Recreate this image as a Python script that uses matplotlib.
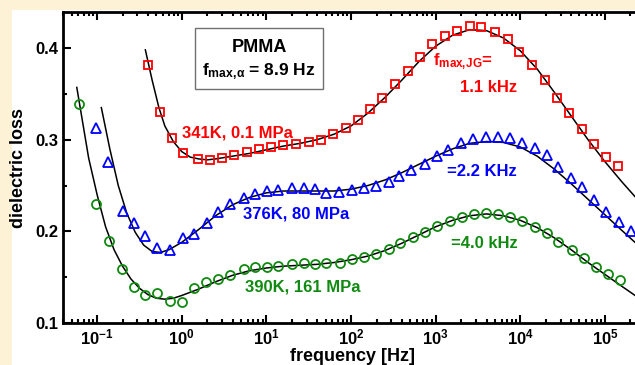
import numpy as np
import matplotlib
matplotlib.use("Agg")
import matplotlib.pyplot as plt
import matplotlib.patches as pltp
from matplotlib.ticker import FixedLocator, LogLocator, NullFormatter, MultipleLocator

plt.rcParams['font.family'] = ['Liberation Sans', 'DejaVu Sans']
plt.rcParams['font.weight'] = 'bold'
plt.rcParams['mathtext.fontset'] = 'custom'
plt.rcParams['mathtext.rm'] = 'Liberation Sans:bold'
plt.rcParams['mathtext.bf'] = 'Liberation Sans:bold'
plt.rcParams['mathtext.it'] = 'Liberation Sans:bold'
plt.rcParams['mathtext.default'] = 'bf'

RED = "#ff0000"
BLUE = "#0000ff"
GREEN = "#108a10"

# ---- data (log10 of frequency in Hz, dielectric loss) ----
red_logf = [-0.40, -0.26, -0.11, 0.02, 0.19, 0.33, 0.48, 0.62, 0.77, 0.91, 1.06, 1.20,
            1.35, 1.50, 1.64, 1.79, 1.94, 2.08, 2.23, 2.37, 2.52, 2.67, 2.81, 2.96,
            3.11, 3.25, 3.40, 3.54, 3.70, 3.85, 3.99, 4.14, 4.29, 4.43, 4.57, 4.73,
            4.87, 5.01, 5.15]
red_loss = [0.381, 0.330, 0.302, 0.286, 0.279, 0.278, 0.280, 0.283, 0.287, 0.290, 0.292, 0.294,
            0.295, 0.297, 0.300, 0.306, 0.313, 0.322, 0.333, 0.346, 0.361, 0.375, 0.390, 0.404,
            0.413, 0.419, 0.424, 0.423, 0.417, 0.410, 0.396, 0.382, 0.365, 0.346, 0.329, 0.312,
            0.295, 0.281, 0.271]

blue_logf = [-1.01, -0.87, -0.70, -0.57, -0.43, -0.29, -0.14, 0.01, 0.14, 0.30, 0.43, 0.57,
             0.73, 0.87, 1.01, 1.14, 1.30, 1.44, 1.57, 1.71, 1.86, 2.01, 2.15, 2.29,
             2.45, 2.57, 2.71, 2.87, 3.01, 3.15, 3.30, 3.44, 3.60, 3.74, 3.88, 4.02,
             4.17, 4.31, 4.45, 4.60, 4.73, 4.87, 5.01, 5.17, 5.31]
blue_loss = [0.313, 0.276, 0.222, 0.209, 0.195, 0.182, 0.180, 0.193, 0.197, 0.209, 0.221, 0.230,
             0.236, 0.241, 0.244, 0.245, 0.247, 0.247, 0.246, 0.242, 0.243, 0.245, 0.247, 0.250,
             0.254, 0.260, 0.267, 0.274, 0.282, 0.289, 0.296, 0.301, 0.303, 0.303, 0.302, 0.296,
             0.291, 0.283, 0.270, 0.258, 0.248, 0.234, 0.221, 0.210, 0.200]

green_logf = [-1.21, -1.01, -0.86, -0.71, -0.57, -0.44, -0.29, -0.14, 0.00, 0.14, 0.29, 0.43,
              0.57, 0.73, 0.87, 1.01, 1.14, 1.30, 1.44, 1.57, 1.71, 1.87, 2.01, 2.15,
              2.30, 2.45, 2.58, 2.73, 2.87, 3.01, 3.17, 3.31, 3.45, 3.60, 3.74, 3.88,
              4.02, 4.17, 4.31, 4.45, 4.61, 4.75, 4.89, 5.04, 5.18]
green_loss = [0.339, 0.230, 0.189, 0.159, 0.139, 0.131, 0.133, 0.124, 0.123, 0.138, 0.145, 0.148,
              0.152, 0.159, 0.161, 0.161, 0.162, 0.164, 0.165, 0.164, 0.165, 0.166, 0.170, 0.172,
              0.175, 0.181, 0.187, 0.194, 0.199, 0.206, 0.211, 0.216, 0.219, 0.220, 0.219, 0.216,
              0.211, 0.205, 0.198, 0.188, 0.180, 0.171, 0.161, 0.153, 0.147]

# fitted curves
red_fit_logf = [-0.43, -0.35, -0.27, -0.2, -0.1, 0.0, 0.1, 0.2, 0.3, 0.4, 0.6, 0.8, 1.0, 1.2,
                1.4, 1.6, 1.8, 2.0, 2.2, 2.4, 2.6, 2.8, 3.0, 3.2, 3.4, 3.6, 3.8, 4.0,
                4.2, 4.4, 4.6, 4.8, 5.0, 5.2, 5.45]
red_fit_loss = [0.398, 0.365, 0.335, 0.315, 0.298, 0.287, 0.281, 0.279, 0.278, 0.279, 0.282,
                0.285, 0.289, 0.293, 0.296, 0.300, 0.306, 0.315, 0.329, 0.346, 0.365, 0.385,
                0.402, 0.414, 0.420, 0.419, 0.411, 0.397, 0.377, 0.352, 0.326, 0.300, 0.276,
                0.254, 0.228]

blue_fit_logf = [-0.95, -0.85, -0.75, -0.65, -0.55, -0.45, -0.35, -0.25, -0.15, 0.0, 0.2, 0.4,
                 0.6, 0.8, 1.0, 1.2, 1.4, 1.6, 1.8, 2.0, 2.2, 2.4, 2.6, 2.8, 3.0, 3.2,
                 3.4, 3.6, 3.8, 4.0, 4.2, 4.4, 4.6, 4.8, 5.0, 5.2, 5.45]
blue_fit_loss = [0.335, 0.290, 0.250, 0.220, 0.199, 0.185, 0.178, 0.177, 0.180, 0.188, 0.202,
                 0.217, 0.229, 0.237, 0.242, 0.244, 0.244, 0.244, 0.244, 0.246, 0.250, 0.256,
                 0.264, 0.273, 0.282, 0.290, 0.296, 0.298, 0.297, 0.292, 0.282, 0.268, 0.252,
                 0.235, 0.218, 0.201, 0.180]

green_fit_logf = [-1.24, -1.1, -1.0, -0.9, -0.8, -0.7, -0.6, -0.5, -0.4, -0.3, -0.2, -0.1, 0.0,
                  0.2, 0.4, 0.6, 0.8, 1.0, 1.2, 1.4, 1.6, 1.8, 2.0, 2.2, 2.4, 2.6, 2.8,
                  3.0, 3.2, 3.4, 3.6, 3.8, 4.0, 4.2, 4.4, 4.6, 4.8, 5.0, 5.2, 5.45]
green_fit_loss = [0.357, 0.280, 0.240, 0.205, 0.180, 0.162, 0.148, 0.138, 0.131, 0.127, 0.126,
                  0.127, 0.130, 0.137, 0.145, 0.152, 0.157, 0.160, 0.162, 0.163, 0.164, 0.166,
                  0.169, 0.173, 0.179, 0.187, 0.196, 0.205, 0.212, 0.217, 0.219, 0.217, 0.212,
                  0.204, 0.193, 0.180, 0.166, 0.153, 0.140, 0.124]

xtick_pos = [1e-1, 1e0, 1e1, 1e2, 1e3, 1e4, 1e5]
xtick_labels = [r'$10^{-1}$', r'$10^{0}$', r'$10^{1}$', r'$10^{2}$',
                r'$10^{3}$', r'$10^{4}$', r'$10^{5}$']
ytick_pos = [0.1, 0.2, 0.3, 0.4]
ytick_labels = ['0.1', '0.2', '0.3', '0.4']

# ---- figure ----
fig = plt.figure(figsize=(6.35, 3.65), dpi=100)
fig.patch.set_facecolor('#fdf2d6')
fig.patches.append(pltp.Rectangle((12 / 635, 0), 1, 1 - 10 / 365, transform=fig.transFigure,
                                  fc='white', ec='none', zorder=-5))

ax = fig.add_axes([63 / 635, 1 - 323 / 365, 1.01 - 63 / 635, (323 - 12) / 365])
ax.set_facecolor('none')
ax.set_zorder(1)
ax.set_xscale('log')

def to_f(logf):
    return 10 ** np.asarray(logf)

ax.plot(to_f(red_fit_logf), red_fit_loss, color='k', lw=1.1, zorder=2)
ax.plot(to_f(blue_fit_logf), blue_fit_loss, color='k', lw=1.1, zorder=2)
ax.plot(to_f(green_fit_logf), green_fit_loss, color='k', lw=1.1, zorder=2)

ax.plot(to_f(red_logf), red_loss, ls='none', marker='s', ms=6.3, mfc='none', mec=RED, mew=1.3, zorder=3)
ax.plot(to_f(blue_logf), blue_loss, ls='none', marker='^', ms=7.5, mfc='none', mec=BLUE, mew=1.3, zorder=3)
ax.plot(to_f(green_logf), green_loss, ls='none', marker='o', ms=6.5, mfc='none', mec=GREEN, mew=1.3, zorder=3)

ax.set_xlim(10 ** -1.403, 10 ** 5.43)
ax.set_ylim(0.1, 0.4393)

ax.xaxis.set_major_locator(FixedLocator(xtick_pos))
ax.set_xticklabels(xtick_labels)
ax.xaxis.set_minor_locator(LogLocator(base=10, subs=np.arange(2, 10), numticks=20))
ax.xaxis.set_minor_formatter(NullFormatter())
ax.yaxis.set_major_locator(FixedLocator(ytick_pos))
ax.set_yticklabels(ytick_labels)
ax.yaxis.set_minor_locator(MultipleLocator(0.05))

ax.tick_params(which='both', direction='in', top=True, right=False, width=1.5, labelsize=12)
ax.tick_params(which='major', length=6, pad=3)
ax.tick_params(which='minor', length=3)
for s in ['left', 'bottom', 'top']:
    ax.spines[s].set_linewidth(2)
ax.spines['right'].set_visible(False)

ax.set_xlabel('frequency [Hz]', fontsize=13, fontweight='bold', labelpad=1)
ax.set_ylabel('dielectric loss', fontsize=13, fontweight='bold', labelpad=6)

# annotations
ax.add_patch(pltp.Rectangle((195 / 635, 1 - 89 / 365), 128 / 635, 61 / 365, transform=fig.transFigure,
                            fc='white', ec='#707070', lw=1.0, zorder=4))
ax.text(259 / 635, 1 - 47 / 365, 'PMMA', ha='center', va='center', fontsize=13,
        transform=fig.transFigure, zorder=5)
ax.text(259 / 635, 1 - 72 / 365, r'f$_{max,\!\alpha}$ = 8.9 Hz', ha='center', va='center',
        fontsize=12.5, transform=fig.transFigure, zorder=5)

def label(x, y, s, c):
    ax.text(x / 635, 1 - y / 365, s, color=c, fontsize=12, va='center', transform=fig.transFigure, zorder=5)

label(182, 133, '341K, 0.1 MPa', RED)
label(433, 62, r'f$_{max,\!JG}$=', RED)
label(460, 88, '1.1 kHz', RED)
label(243, 214, '376K, 80 MPa', BLUE)
label(447, 171, '=2.2 KHz', BLUE)
label(245, 287, '390K, 161 MPa', GREEN)
label(451, 243, '=4.0 kHz', GREEN)

fig.savefig('out.png', dpi=100, facecolor=fig.get_facecolor())
